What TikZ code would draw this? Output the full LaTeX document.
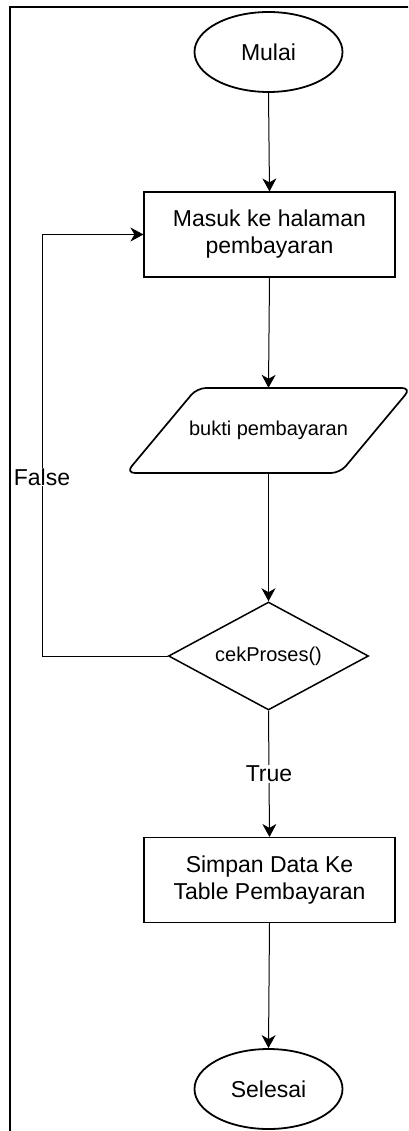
\documentclass[tikz,border=0pt]{standalone}
\usepackage{fontspec}
\setmainfont{Liberation Sans}
\usetikzlibrary{shapes.geometric,arrows.meta}
\begin{document}
\begin{tikzpicture}[x=1pt,y=-1pt,
  bigtext/.style={font=\fontsize{23}{27}\selectfont},
  smalltext/.style={font=\fontsize{20}{24}\selectfont},
  terminal/.style={draw=black,line width=1.8pt,ellipse,minimum width=148pt,minimum height=80pt,inner sep=0pt,bigtext},
  processbox/.style={draw=black,line width=1.1pt,rectangle,minimum width=251pt,minimum height=85pt,inner sep=0pt,align=center,bigtext},
  decision/.style={draw=black,line width=1.5pt,diamond,aspect=1.85,minimum width=200pt,minimum height=108pt,inner sep=0pt,smalltext},
  flow/.style={draw=black,line width=1pt,-{Stealth[length=13pt,width=14pt,inset=4pt]}},
  edgelabel/.style={fill=white,inner sep=1pt,bigtext}]
\useasboundingbox (0,0) rectangle (408,1131);
\clip (0,0) rectangle (408,1131);

% frame around the chart
\draw[line width=1.6pt] (10,1140) -- (10,7) -- (420,7);

% nodes
\node[terminal] (start) at (268.5,52) {Mulai};
\node[processbox] (page) at (269.5,234.5) {Masuk ke halaman\\pembayaran};
\node[minimum width=150pt,minimum height=85pt,inner sep=0pt,smalltext] (proof) at (268.5,430.5) {bukti pembayaran};
\draw[draw=black,line width=1.7pt,rounded corners=9pt] (300,388) -- (411,388) -- (340,473) -- (126,473) -- (197,388) -- cycle;
\node[decision] (check) at (268.5,656) {cekProses()};
\node[processbox] (save) at (269.5,880) {Simpan Data Ke\\Table Pembayaran};
\node[terminal] (finish) at (268.5,1089) {Selesai};

% connectors
\draw[flow] (start.south) -- (page.north);
\draw[flow] (page.south) -- (proof.north);
\draw[flow] (proof.south) -- (check.north);
\coordinate (loopcorner) at (42,656);
\draw[flow] (check.west) -- (loopcorner) |- (page.west);
\node[edgelabel] (falselabel) at (42,477) {False};
\draw[flow] (check.south) -- node[edgelabel] (truelabel) {True} (save.north);
\draw[flow] (save.south) -- (finish.north);
\end{tikzpicture}
\end{document}
